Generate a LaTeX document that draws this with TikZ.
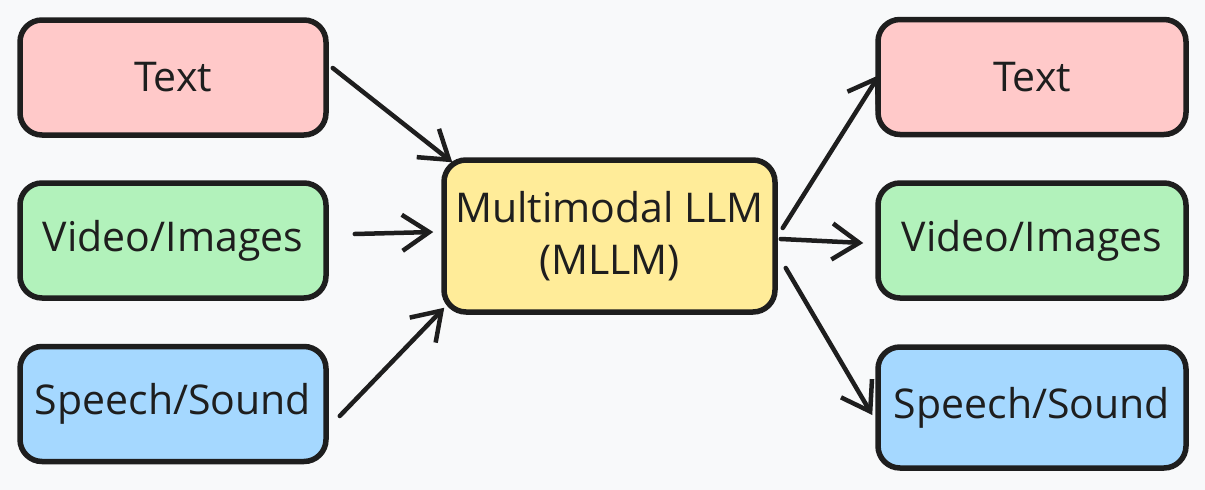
\documentclass[tikz,border=0pt]{standalone}
\usepackage{fontspec}
\setmainfont{Open Sans}
\usetikzlibrary{arrows.meta}
\definecolor{bgc}{HTML}{F8F9FA}
\definecolor{ink}{HTML}{1E1E1E}
\definecolor{pinkc}{HTML}{FFC9C9}
\definecolor{greenc}{HTML}{B2F2BB}
\definecolor{bluec}{HTML}{A5D8FF}
\definecolor{yellowc}{HTML}{FFEC99}
\tikzset{
  box/.style={draw=ink, line width=5.5pt, rounded corners=22pt, minimum width=306pt, minimum height=115pt, inner sep=0pt, align=center, font=\fontsize{41}{52}\selectfont, text=ink},
  arr/.style={draw=ink, line width=4.5pt, line cap=round, -{Straight Barb[length=27pt,width=36pt,line width=4.5pt]}}
}
\begin{document}
\begin{tikzpicture}[x=1pt,y=-1pt]
\fill[bgc] (0,0) rectangle (1205,490);
\useasboundingbox (0,0) rectangle (1205,490);
\node[box, fill=pinkc] (tl) at (173,77.5) {Text};
\node[box, fill=greenc] (vl) at (173,240.5) {Video/Images};
\node[box, fill=bluec] (sl) at (173,404) {Speech/Sound};
\node[box, fill=yellowc, minimum width=331pt, minimum height=152pt] (mm) at (609.5,236) {Multimodal LLM\\(MLLM)};
\node[box, fill=pinkc, minimum width=308pt] (tr) at (1032,77) {Text};
\node[box, fill=greenc, minimum width=308pt] (vr) at (1032,240.5) {Video/Images};
\node[box, fill=bluec, minimum width=308pt, minimum height=121pt] (sr) at (1032,407.5) {Speech/Sound};
\draw[arr] ([shift={(4,-9.5)}]tl.east) -- ([shift={(11,5)}]mm.north west);
\draw[arr] ([shift={(26,-6.5)}]vl.east) -- ([shift={(-8,-4)}]mm.west);
\draw[arr] ([shift={(11,12)}]sl.east) -- ([shift={(3,-7)}]mm.south west);
\draw[arr] ([shift={(5,-8)}]mm.east) -- ([shift={(4,-2)}]tr.west);
\draw[arr] ([shift={(3,3)}]mm.east) -- ([shift={(-12,2.5)}]vr.west);
\draw[arr] ([shift={(8,32)}]mm.east) -- ([shift={(-3,7.5)}]sr.west);
\end{tikzpicture}
\end{document}
